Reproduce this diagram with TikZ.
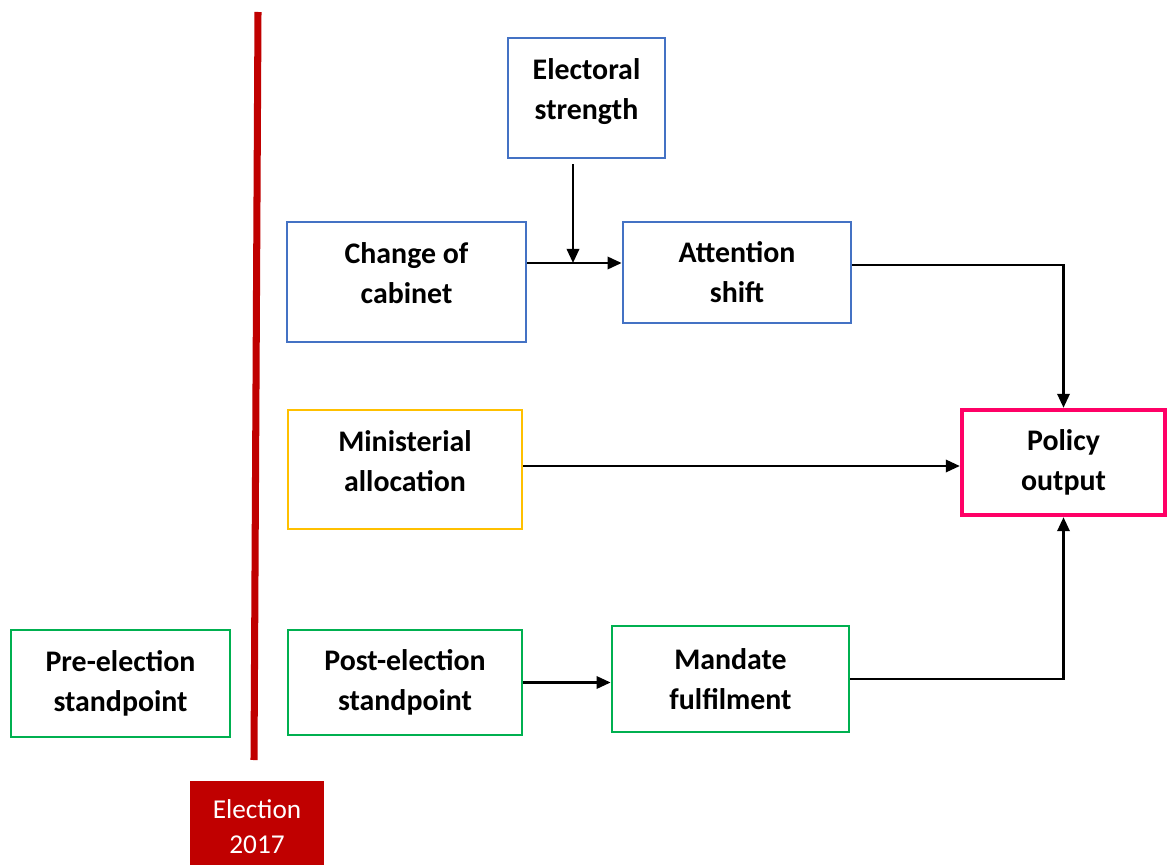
\documentclass[tikz,border=0pt]{standalone}
\usepackage{fontspec}
\setmainfont{Carlito}
\usepackage{tikz}
\usetikzlibrary{arrows.meta}

\definecolor{cblue}{RGB}{68,114,196}
\definecolor{corange}{RGB}{255,192,0}
\definecolor{cgreen}{RGB}{0,176,80}
\definecolor{cpink}{RGB}{255,0,102}
\definecolor{cred}{RGB}{192,0,0}

\tikzset{
    box/.style={draw, line width=1.6pt, fill=white, align=center,
        font=\fontsize{17}{22.7}\selectfont\bfseries, inner sep=2pt},
    lifted/.style={text depth=10pt},
    arr/.style={-{Triangle[length=8pt,width=7pt]}, line width=1.4pt, black}
}

\begin{document}
\begin{tikzpicture}[x=0.02cm, y=-0.02cm]
        \clip (0, 0) rectangle (1167, 865);

        % divider at the election
        \draw[line width=4pt, cred] (258, 12) -- (254, 760);
        \node[fill=cred, text=white, align=center, anchor=north, minimum width=2.68cm,
            minimum height=1.8cm, font={\fontsize{15.5}{20}\selectfont}]
            (election) at (257, 781) {Election\\2017};

        \node[box, lifted, draw=cblue, minimum width=3.14cm, minimum height=2.4cm] (electoral) at (586.5, 98) {Electoral\\strength};
        \node[box, lifted, draw=cblue, minimum width=4.78cm, minimum height=2.4cm] (change) at (406.5, 282) {Change of\\cabinet};
        \node[box, draw=cblue, minimum width=4.56cm, minimum height=2.02cm] (attention) at (737, 272.5) {Attention\\shift};
        \node[box, lifted, draw=corange, minimum width=4.68cm, minimum height=2.38cm] (ministerial) at (405, 469.5) {Ministerial\\allocation};
        \node[box, draw=cpink, line width=2.5pt, minimum width=4.06cm, minimum height=2.1cm] (policy) at (1063.5, 462.5) {Policy\\output};
        \node[box, draw=cgreen, minimum width=4.38cm, minimum height=2.14cm] (pre) at (120.5, 683.5) {Pre-election\\standpoint};
        \node[box, draw=cgreen, minimum width=4.68cm, minimum height=2.1cm] (post) at (405, 682.5) {Post-election\\standpoint};
        \node[box, draw=cgreen, minimum width=4.74cm, minimum height=2.12cm] (mandate) at (730.5, 679) {Mandate\\fulfilment};

        \coordinate (join) at (573, 263);
        \draw[arr] ([yshift=-0.1cm]electoral.south -| join) -- (join);
        \draw[arr] (change.east |- join) -- (attention.west |- join);
        \draw[arr] ([yshift=0.15cm]attention.east) -| (policy.north);
        \draw[arr] ([yshift=0.07cm]ministerial.east) -- ([yshift=0.07cm]ministerial.east -| policy.west);
        \draw[arr] (post.east) -- (post.east -| mandate.west);
        \draw[arr] (mandate.east) -| (policy.south);
    \end{tikzpicture}
\end{document}
